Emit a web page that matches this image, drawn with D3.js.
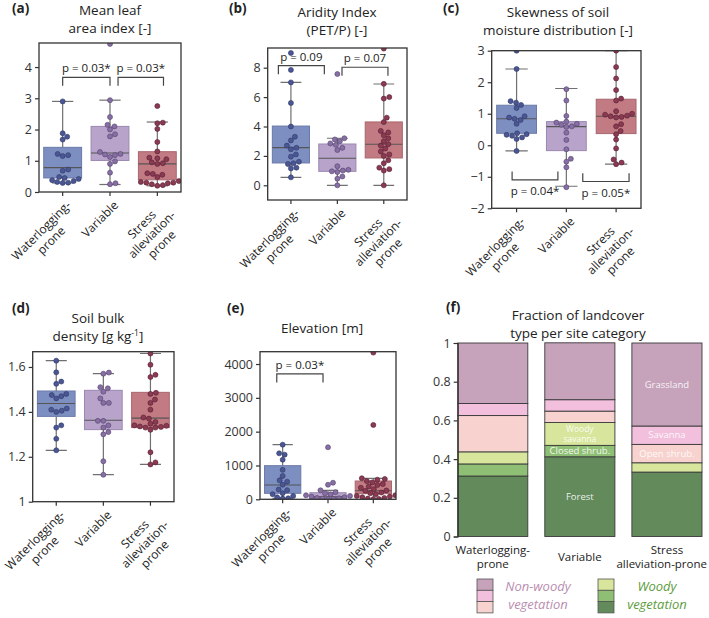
<!DOCTYPE html>
<meta charset="utf-8">
<style>
body { margin: 0; background: #fff; }
svg { font-family: "Open Sans", sans-serif; }
</style>
<svg width="709" height="618"></svg>
<script src="https://d3js.org/d3.v7.min.js"></script>
<script>
var categories = ["Waterlogging-prone", "Variable", "Stress alleviation-prone"];
var catLines = [["Waterlogging-", "prone"], ["Variable"], ["Stress", "alleviation-", "prone"]];
var catLinesF = [["Waterlogging-", "prone"], ["Variable"], ["Stress", "alleviation-prone"]];
var fillColors = ["#7d8fc1", "#b8a4cb", "#c27b83"];
var edgeColors = ["#6a79a8", "#9c88b0", "#a8666e"];
var dotColors = ["#4b5794", "#876ea5", "#8b3a52"];
var dotEdges = ["#2f3766", "#53436a", "#541f30"];

// (a) mean leaf area index
var laiWL = [2.9, 1.88, 1.77, 1.68, 1.22, 1.18, 1.15, 0.72, 0.68, 0.48, 0.45, 0.42, 0.38, 0.35, 0.32, 0.3, 0.29];
var laiVar = [4.74, 2.94, 2.4, 2.15, 2.1, 2.0, 1.85, 1.78, 1.28, 1.22, 1.2, 1.18, 1.12, 0.98, 0.9, 0.62, 0.28, 0.25];
var laiSAP = [2.75, 2.22, 2.2, 2.02, 1.6, 1.3, 1.1, 1.08, 1.05, 0.95, 0.92, 0.9, 0.6, 0.58, 0.55, 0.48, 0.35, 0.32, 0.3, 0.3, 0.28, 0.25, 0.22, 0.2];
// box stats: q1, median, q3, lower whisker, upper whisker
var laiBox = [[0.45, 0.78, 1.43, 0.29, 2.9], [1.01, 1.25, 2.1, 0.24, 2.94], [0.39, 0.9, 1.29, 0.2, 2.24]];
var laiTicks = [0, 1, 2, 3, 4];
var laiP = ["p = 0.03*", "p = 0.03*"];

// (b) aridity index
var aridWL = [9.0, 7.85, 7.0, 5.6, 4.0, 3.3, 3.05, 2.7, 2.55, 2.45, 2.1, 1.95, 1.6, 1.5, 1.45, 1.2, 1.15, 0.54];
var aridVar = [7.57, 3.2, 3.12, 3.0, 2.85, 2.75, 2.55, 2.4, 1.3, 1.05, 1.0, 0.95, 0.9, 0.6, 0.45, 0.0];
var aridSAP = [9.3, 6.9, 6.0, 5.9, 4.6, 4.3, 3.7, 3.6, 3.4, 3.2, 3.0, 2.8, 2.7, 2.5, 2.3, 2.1, 2.0, 1.7, 1.5, 1.2, 1.1, 1.0, 0.0];
var aridBox = [[1.52, 2.56, 4.03, 0.54, 7.0], [0.95, 1.84, 2.81, 0, 3.2], [1.86, 2.79, 4.31, 0, 6.89]];
var aridTicks = [0, 2, 4, 6, 8];
var aridP = ["p = 0.09", "p = 0.07"];

// (c) skewness of soil moisture
var skewWL = [3.0, 2.42, 1.4, 1.35, 1.28, 1.18, 0.92, 0.88, 0.84, 0.8, 0.68, 0.38, 0.35, 0.33, 0.3, 0.25, 0.2, -0.18];
var skewVar = [1.78, 1.42, 0.93, 0.75, 0.72, 0.68, 0.65, 0.6, 0.58, 0.4, 0.17, -0.13, -0.43, -0.52, -0.7, -1.33];
var skewSAP = [3.0, 2.48, 2.12, 1.75, 1.48, 1.42, 1.08, 1.0, 0.97, 0.94, 0.92, 0.9, 0.88, 0.67, 0.6, 0.45, 0.35, 0.18, -0.1, -0.45, -0.55, -0.6];
var skewBox = [[0.38, 0.84, 1.27, -0.18, 2.42], [-0.17, 0.59, 0.75, -1.3, 1.8], [0.37, 0.92, 1.46, -0.6, 3.0]];
var skewTicks = [-2, -1, 0, 1, 2, 3];
var skewP = ["p = 0.04*", "p = 0.05*"];

// (d) soil bulk density
var bdWL = [1.628, 1.576, 1.535, 1.525, 1.48, 1.475, 1.47, 1.46, 1.415, 1.41, 1.405, 1.40, 1.34, 1.33, 1.28, 1.229];
var bdVar = [1.575, 1.57, 1.51, 1.505, 1.49, 1.46, 1.44, 1.44, 1.36, 1.36, 1.34, 1.33, 1.31, 1.30, 1.18, 1.12];
var bdSAP = [1.66, 1.61, 1.565, 1.555, 1.485, 1.48, 1.455, 1.44, 1.41, 1.375, 1.37, 1.355, 1.347, 1.34, 1.338, 1.335, 1.333, 1.33, 1.33, 1.32, 1.22, 1.175, 1.166];
var bdBox = [[1.38, 1.437, 1.493, 1.229, 1.628], [1.321, 1.363, 1.496, 1.121, 1.57], [1.33, 1.372, 1.487, 1.166, 1.66]];
var bdTicks = [1, 1.2, 1.4, 1.6];

// (e) elevation
var elevWL = [1615, 1360, 1320, 1170, 870, 690, 560, 520, 430, 290, 270, 180, 150, 100, 60, 30, 20];
var elevVar = [1538, 490, 430, 266, 210, 180, 150, 120, 100, 80, 60, 40, 30, 20, 10, 5];
var elevSAP = [4337, 2198, 621, 600, 580, 540, 500, 450, 420, 380, 340, 300, 260, 250, 200, 180, 150, 120, 100, 80, 60, 40, 20, 10, 5];
var elevBox = [[177, 423, 994, 30, 1615], [18, 77, 195, 0, 266], [166, 255, 541, 0, 621]];
var elevTicks = [0, 1000, 2000, 3000, 4000];
var elevP = ["p = 0.03*"];

// (f) landcover fractions, bottom to top
var lcTypes = ["Forest", "Closed shrub.", "Woody savanna", "Open shrub.", "Savanna", "Grassland"];
var lcWL = [0.3125, 0.0625, 0.0625, 0.1875, 0.0625, 0.3125];
var lcVar = [0.412, 0.059, 0.118, 0.059, 0.059, 0.294];
var lcSAP = [0.333, 0, 0.048, 0.095, 0.095, 0.429];
var lcColors = ["#628a5b", "#8fbf74", "#d7e69c", "#f7d2ce", "#f2bfdc", "#c6a2bb"];
var lcTicks = [0, 0.2, 0.4, 0.6, 0.8, 1];

var svg = d3.select("svg");
var ink = "#333";

function swarm(vals, y, r) {
  var pts = vals.map(function(v) { return {v: v, py: y(v)}; })
    .sort(function(a, b) { return b.py - a.py; });
  var placed = [], d2 = (2 * r + 0.3) * (2 * r + 0.3);
  pts.forEach(function(p) {
    for (var k = 0; k < 80; k++) {
      var offs = k === 0 ? [0] : [k * 0.5, -k * 0.5], found = null;
      for (var j = 0; j < offs.length; j++) {
        var o = offs[j];
        var ok = placed.every(function(q) {
          return (q.dx - o) * (q.dx - o) + (q.py - p.py) * (q.py - p.py) >= d2;
        });
        if (ok) { found = o; break; }
      }
      if (found !== null) { p.dx = found; break; }
    }
    placed.push(p);
  });
  return pts;
}

function titleBlock(letter, lx, ly, lines, cx, baselines) {
  svg.append("text").attr("x", lx).attr("y", ly).attr("font-weight", "bold")
    .attr("font-size", 13.5).attr("fill", "#222").text(letter);
  lines.forEach(function(t, i) {
    var tx = svg.append("text").attr("x", cx).attr("y", baselines[i]).attr("text-anchor", "middle")
      .attr("font-size", 13.5).attr("fill", "#222");
    if (Array.isArray(t)) {
      tx.append("tspan").text(t[0]);
      tx.append("tspan").attr("font-size", 8.5).attr("dy", -5).text(t[1]);
      tx.append("tspan").attr("dy", 5).text(t[2]);
    } else tx.text(t);
  });
}

function boxPanel(cfg) {
  var x = d3.scalePoint().domain([0, 1, 2]).range([cfg.left, cfg.right]).padding(0.5);
  var y = d3.scaleLinear().domain(cfg.domain).range([cfg.bottom, cfg.top]);
  var step = x.step(), bw = step * 0.8, r = 2.5;
  var g = svg.append("g");
  g.append("clipPath").attr("id", "clip" + cfg.id).append("rect")
    .attr("x", cfg.left).attr("y", cfg.top)
    .attr("width", cfg.right - cfg.left).attr("height", cfg.bottom - cfg.top);
  var plot = g.append("g").attr("clip-path", "url(#clip" + cfg.id + ")");

  cfg.box.forEach(function(b, i) {
    var cx = x(i);
    plot.append("line").attr("x1", cx).attr("x2", cx).attr("y1", y(b[3])).attr("y2", y(b[4]))
      .attr("stroke", "#707070").attr("stroke-width", 1.2);
    [b[3], b[4]].forEach(function(v) {
      plot.append("line").attr("x1", cx - bw * 0.28).attr("x2", cx + bw * 0.28)
        .attr("y1", y(v)).attr("y2", y(v)).attr("stroke", "#707070").attr("stroke-width", 1.2);
    });
    plot.append("rect").attr("x", cx - bw / 2).attr("width", bw)
      .attr("y", y(b[2])).attr("height", y(b[0]) - y(b[2]))
      .attr("fill", fillColors[i]).attr("stroke", edgeColors[i]).attr("stroke-width", 1);
    plot.append("line").attr("x1", cx - bw / 2).attr("x2", cx + bw / 2)
      .attr("y1", y(b[1])).attr("y2", y(b[1])).attr("stroke", "#555").attr("stroke-width", 1.1);
  });

  cfg.points.forEach(function(vals, i) {
    plot.selectAll(null).data(swarm(vals, y, r)).enter().append("circle")
      .attr("cx", function(d) { return x(i) + d.dx; })
      .attr("cy", function(d) { return d.py; })
      .attr("r", r).attr("fill", dotColors[i]).attr("stroke", dotEdges[i]).attr("stroke-width", 0.6);
  });

  g.append("rect").attr("x", cfg.left).attr("y", cfg.top)
    .attr("width", cfg.right - cfg.left).attr("height", cfg.bottom - cfg.top)
    .attr("fill", "none").attr("stroke", ink).attr("stroke-width", 1.3);

  var ax = g.append("g").attr("transform", "translate(" + cfg.left + ",0)")
    .call(d3.axisLeft(y).tickValues(cfg.ticks).tickSize(4).tickPadding(3).tickFormat(cfg.fmt || d3.format("d")));
  ax.select(".domain").remove();
  ax.selectAll("line").attr("stroke", ink).attr("stroke-width", 1.2);
  ax.selectAll("text").attr("font-size", 12.5).attr("fill", ink).attr("font-family", "Open Sans");

  // category ticks and rotated labels
  [0, 1, 2].forEach(function(i) {
    g.append("line").attr("x1", x(i)).attr("x2", x(i)).attr("y1", cfg.bottom).attr("y2", cfg.bottom + 4)
      .attr("stroke", ink).attr("stroke-width", 1.2);
    var lab = g.append("text").attr("font-size", 12).attr("fill", "#222")
      .attr("transform", "translate(" + (x(i) + 9) + "," + (cfg.bottom + 14) + ") rotate(-45)");
    var spans = catLines[i].map(function(t, k) {
      return lab.append("tspan").attr("text-anchor", "middle").attr("y", k * 14).text(t);
    });
    var w = d3.max(spans, function(s) { return s.node().getComputedTextLength(); });
    spans.forEach(function(s) { s.attr("x", -w / 2); });
  });

  // significance brackets
  (cfg.brackets || []).forEach(function(b) {
    var x0 = x(0) + b.i0 * step, x1 = x(0) + b.i1 * step;
    var yl = y(b.leg), yt = y(b.top);
    g.append("path").attr("d", "M" + x0 + "," + yl + "V" + yt + "H" + x1 + "V" + yl)
      .attr("fill", "none").attr("stroke", "#444").attr("stroke-width", 1.2);
    g.append("text").attr("x", (x0 + x1) / 2).attr("y", b.below ? yt + 15 : yt - 5)
      .attr("text-anchor", "middle").attr("font-size", 11.5).attr("fill", "#222").text(b.text);
  });
}

titleBlock("(a)", 12, 13, ["Mean leaf", "area index [-]"], 110, [15, 33]);
boxPanel({id: "a", left: 39, right: 181, top: 43, bottom: 192, domain: [0, 4.77],
  box: laiBox, points: [laiWL, laiVar, laiSAP], ticks: laiTicks,
  brackets: [{i0: 0, i1: 1, top: 3.67, leg: 3.40, text: laiP[0]},
             {i0: 1.17, i1: 2.13, top: 3.67, leg: 3.40, text: laiP[1]}]});

titleBlock("(b)", 229, 13, ["Aridity Index", "(PET/P) [-]"], 337, [17, 35]);
boxPanel({id: "b", left: 267.7, right: 407, top: 48, bottom: 200, domain: [-1, 9.34],
  box: aridBox, points: [aridWL, aridVar, aridSAP], ticks: aridTicks,
  brackets: [{i0: -0.27, i1: 0.72, top: 8.14, leg: 7.55, text: aridP[0]},
             {i0: 1.1, i1: 2.09, top: 8.03, leg: 7.45, text: aridP[1]}]});

titleBlock("(c)", 443, 13, ["Skewness of soil", "moisture distribution [-]"], 558, [17, 35]);
boxPanel({id: "c", left: 491.7, right: 641, top: 50.7, bottom: 208.3, domain: [-2, 3],
  box: skewBox, points: [skewWL, skewVar, skewSAP], ticks: skewTicks,
  brackets: [{i0: -0.09, i1: 0.83, top: -1.1, leg: -0.83, text: skewP[0], below: true},
             {i0: 1.33, i1: 2.26, top: -1.15, leg: -0.89, text: skewP[1], below: true}]});

titleBlock("(d)", 12, 313, ["Soil bulk", ["density [g kg", "-1", "]"]], 98, [323, 341]);
boxPanel({id: "d", left: 32.7, right: 174, top: 351.7, bottom: 501.7, domain: [1, 1.668],
  box: bdBox, points: [bdWL, bdVar, bdSAP], ticks: bdTicks,
  fmt: function(d) { return d === 1 ? "1" : d3.format(".1f")(d); }});

titleBlock("(e)", 227, 313, ["Elevation [m]"], 322, [333]);
boxPanel({id: "e", left: 260, right: 396, top: 351.7, bottom: 499.3, domain: [0, 4364],
  box: elevBox, points: [elevWL, elevVar, elevSAP], ticks: elevTicks,
  brackets: [{i0: -0.13, i1: 0.89, top: 3707, leg: 3450, text: elevP[0]}]});

// (f) stacked landcover bars
titleBlock("(f)", 446, 312, ["Fraction of landcover", "type per site category"], 578, [320, 338]);
var fx = d3.scaleBand().domain([0, 1, 2]).range([457.7, 702]).paddingInner(0.195).paddingOuter(0);
var fy = d3.scaleLinear().domain([0, 1]).range([536.5, 343]);
var lcTable = [lcWL, lcVar, lcSAP].map(function(arr) {
  var o = {};
  lcTypes.forEach(function(t, j) { o[t] = arr[j]; });
  return o;
});
var lcStack = d3.stack().keys(lcTypes)(lcTable);
var fg = svg.append("g");
lcStack.forEach(function(layer, j) {
  fg.selectAll(null).data(layer).enter().append("rect")
    .filter(function(d) { return d[1] - d[0] > 0; })
    .attr("x", function(d, i) { return fx(i); })
    .attr("width", fx.bandwidth())
    .attr("y", function(d) { return fy(d[1]); })
    .attr("height", function(d) { return fy(d[0]) - fy(d[1]); })
    .attr("fill", lcColors[j]).attr("stroke", "#3a3a3a").attr("stroke-width", 0.9);
});
var fax = fg.append("g").attr("transform", "translate(457.7,0)")
  .call(d3.axisLeft(fy).tickValues(lcTicks).tickSize(4).tickPadding(3)
    .tickFormat(function(d) { return d === 0 ? "0" : d === 1 ? "1" : d3.format(".1f")(d); }));
fax.select(".domain").attr("stroke", ink).attr("stroke-width", 1.2);
fax.selectAll("line").attr("stroke", ink).attr("stroke-width", 1.2);
fax.selectAll("text").attr("font-size", 12.5).attr("fill", ink).attr("font-family", "Open Sans");

// segment labels: bar index, type index, lines
var lcLabels = [[2, 5, ["Grassland"]], [2, 4, ["Savanna"]], [2, 3, ["Open shrub."]],
                [1, 2, ["Woody", "savanna"]], [1, 1, ["Closed shrub."]], [1, 0, ["Forest"]]];
lcLabels.forEach(function(l) {
  var seg = lcStack[l[1]][l[0]];
  var cy = (fy(seg[0]) + fy(seg[1])) / 2;
  var n = l[2].length;
  l[2].forEach(function(t, k) {
    fg.append("text").attr("x", fx(l[0]) + fx.bandwidth() / 2)
      .attr("y", cy + 3.2 + (k - (n - 1) / 2) * 9.5)
      .attr("text-anchor", "middle").attr("font-size", n > 1 ? 8.5 : 9.5)
      .attr("fill", "#fff").attr("fill-opacity", 0.9).text(t);
  });
});

catLinesF.forEach(function(lines, i) {
  var n = lines.length;
  var cx = fx(i) + fx.bandwidth() / 2;
  lines.forEach(function(t, k) {
    var tx = fg.append("text").attr("x", cx)
      .attr("y", 561 + (k - (n - 1) / 2) * 14.5)
      .attr("text-anchor", "middle").attr("font-size", 11.5).attr("fill", "#222").text(t);
    var w = tx.node().getComputedTextLength();
    if (cx + w / 2 > 707) tx.attr("x", 707 - w / 2);
  });
});

// legend
var legNon = [5, 4, 3], legWoody = [2, 1, 0];
[[legNon, 477, ["Non-woody", "vegetation"], 538, "#b98db0"],
 [legWoody, 598, ["Woody", "vegetation"], 657, "#5c9c3c"]].forEach(function(L) {
  L[0].forEach(function(j, k) {
    svg.append("rect").attr("x", L[1]).attr("y", 579 + k * 11.3).attr("width", 16).attr("height", 11.3)
      .attr("fill", lcColors[j]).attr("stroke", "#555").attr("stroke-width", 0.8);
  });
  L[2].forEach(function(t, k) {
    svg.append("text").attr("x", L[3]).attr("y", 591 + k * 18).attr("text-anchor", "middle")
      .attr("font-size", 13).attr("font-style", "italic").attr("fill", L[4]).text(t);
  });
});
</script>
